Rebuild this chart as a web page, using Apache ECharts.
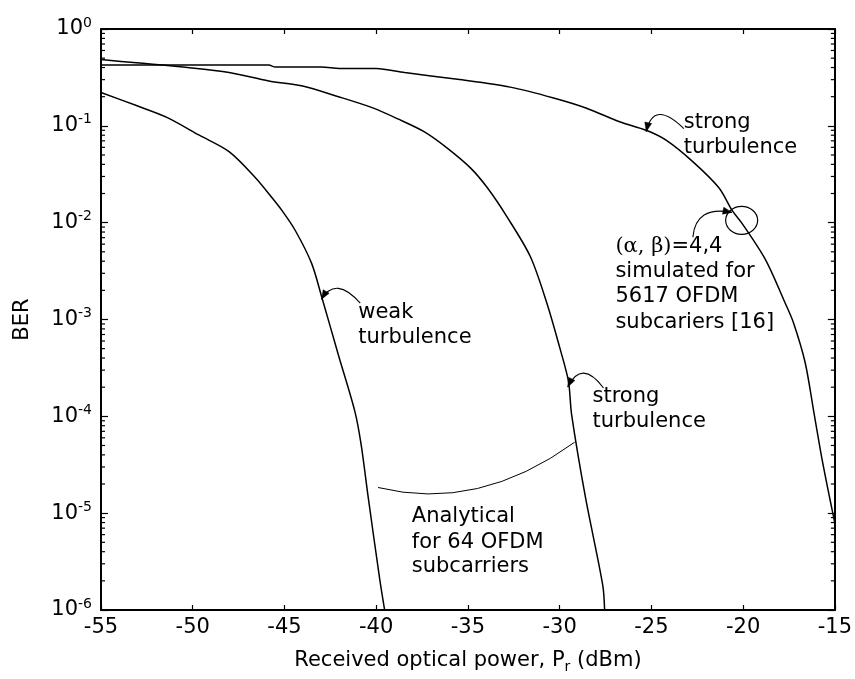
<!DOCTYPE html>
<html>
<head>
<meta charset="utf-8">
<script src="https://cdn.jsdelivr.net/npm/echarts@6/dist/echarts.min.js"></script>
<style>
  html, body { margin: 0; padding: 0; background: #fff; }
  #chart { width: 855px; height: 679px; }
</style>
</head>
<body>
<div id="chart"></div>
<script>
// Weak turbulence, analytical (64 OFDM subcarriers)
const weakX   = [-55, -53.07, -51.44, -49.64, -48.02, -46.57, -45.69, -45.13, -44.41, -43.52, -42.98, -42.06, -41.16, -40.82, -40.44, -39.81, -39.54];
const weakBER = [0.221, 0.162, 0.123, 0.080, 0.0542, 0.029, 0.0182, 0.0133, 0.0083, 0.0038, 0.00174, 4.3e-4, 1.12e-4, 5.1e-5, 1.48e-5, 2.1e-6, 1e-6];

// Strong turbulence, analytical (64 OFDM subcarriers)
const strongX   = [-55, -53.07, -50.18, -48.02, -45.85, -44.07, -42.06, -40.26, -38.82, -37.37, -36.11, -34.85, -33.94, -32.86, -31.6, -30.7, -29.98, -29.52, -29.35, -28.6, -27.65, -27.55];
const strongBER = [0.483, 0.447, 0.398, 0.355, 0.291, 0.259, 0.2, 0.155, 0.118, 0.0867, 0.0586, 0.0366, 0.0229, 0.0114, 0.00447, 0.00148, 5.0e-4, 2.3e-4, 1.05e-4, 1.48e-5, 1.8e-6, 1e-6];

// Strong turbulence, (alpha, beta) = 4,4, simulated for 5617 OFDM subcarriers [16]
const simX   = [-55, -45.85, -45.5, -43, -42, -40, -38.45, -35.57, -32.7, -30.33, -28.53, -26.73, -25.28, -24.2, -22.76, -21.32, -20.59, -20.05, -18.79, -17.71, -17.26, -16.62, -16.15, -15.72, -15.27, -15];
const simBER = [0.424, 0.424, 0.404, 0.404, 0.392, 0.39, 0.355, 0.302, 0.251, 0.194, 0.152, 0.110, 0.0899, 0.0711, 0.0429, 0.0229, 0.0133, 0.00977, 0.00417, 0.00148, 9.3e-4, 3.6e-4, 1.12e-4, 3.8e-5, 1.4e-5, 7.9e-6];

// Axis ranges and ticks
const xMin = -55, xMax = -15, xStep = 5;
const berMin = 1e-6, berMax = 1;

const FONT = 'DejaVu Sans';
const INK = '#000';

function pairs(xs, ys) { return xs.map((x, i) => [x, ys[i]]); }

// minor ticks at 2..9 x 10^k
const minorTicks = [];
for (let k = -6; k < 0; k++) {
  for (let m = 2; m <= 9; m++) minorTicks.push([xMin, m * Math.pow(10, k)]);
}

const chart = echarts.init(document.getElementById('chart'), null, { renderer: 'canvas' });

const axisLineStyle = { color: INK, width: 2 };
const lineStyle = { color: INK, width: 1.5 };

function logAxis(extra) {
  return Object.assign({
    type: 'log', logBase: 10, min: berMin, max: berMax, interval: 1, splitNumber: 6,
    axisLine: { show: true, lineStyle: axisLineStyle },
    axisTick: { show: true, inside: true, length: 7, lineStyle: { color: INK, width: 1.2 } },
    splitLine: { show: false },
    minorTick: { show: false }
  }, extra);
}

function curve(name, xs, ys) {
  return {
    name: name, type: 'line', data: pairs(xs, ys),
    showSymbol: false, smooth: 0.3,
    lineStyle: lineStyle, silent: true
  };
}

chart.setOption({
  animation: false,
  backgroundColor: '#fff',
  grid: { left: 101, right: 15, top: 29, bottom: 60, containLabel: false },
  xAxis: [
    {
      type: 'value', min: xMin, max: xMax, interval: xStep, position: 'bottom',
      name: 'Received optical power, P{sub|r} (dBm)',
      nameLocation: 'middle', nameGap: 38,
      nameTextStyle: {
        color: INK, fontFamily: FONT, fontSize: 21, lineHeight: 26,
        rich: { sub: { fontSize: 14, fontFamily: FONT, color: INK, verticalAlign: 'bottom', lineHeight: 26 } }
      },
      axisLine: { show: true, lineStyle: axisLineStyle },
      axisTick: { show: true, inside: true, length: 5, lineStyle: { color: INK, width: 1.2 } },
      axisLabel: { color: INK, fontFamily: FONT, fontSize: 21, margin: 7 },
      splitLine: { show: false }
    },
    {
      type: 'value', min: xMin, max: xMax, interval: xStep, position: 'top',
      axisLine: { show: true, lineStyle: axisLineStyle },
      axisTick: { show: true, inside: true, length: 5, lineStyle: { color: INK, width: 1.2 } },
      axisLabel: { show: false },
      splitLine: { show: false }
    }
  ],
  yAxis: [
    logAxis({
      position: 'left',
      name: 'BER', nameLocation: 'middle', nameGap: 68, nameRotate: 90,
      nameTextStyle: { color: INK, fontFamily: FONT, fontSize: 21 },
      axisLabel: {
        margin: 9,
        formatter: v => '{b|10}{e|' + Math.round(Math.log10(v)) + '}',
        rich: {
          b: { fontFamily: FONT, fontSize: 21, color: INK, lineHeight: 26, verticalAlign: 'middle' },
          e: { fontFamily: FONT, fontSize: 14, color: INK, lineHeight: 26, verticalAlign: 'top' }
        }
      }
    }),
    logAxis({ position: 'right', axisLabel: { show: false } })
  ],
  series: [
    curve('weak', weakX, weakBER),
    curve('strong', strongX, strongBER),
    curve('simulated', simX, simBER),
    {
      // log-decade minor ticks on the left and right frame
      name: 'minorTicks', type: 'custom', silent: true, clip: false,
      data: minorTicks,
      renderItem: (params, api) => {
        const l = api.coord([xMin, api.value(1)]);
        const r = api.coord([xMax, api.value(1)]);
        return {
          type: 'group',
          children: [
            { type: 'line', shape: { x1: l[0], y1: l[1], x2: l[0] + 4, y2: l[1] }, style: { stroke: INK, lineWidth: 1.2 } },
            { type: 'line', shape: { x1: r[0], y1: r[1], x2: r[0] - 4, y2: r[1] }, style: { stroke: INK, lineWidth: 1.2 } }
          ]
        };
      }
    }
  ]
});

// Annotations, anchored in data space: [dBm, log10(BER)]
const noteLines = [
  { at: [-23.23, -1.046], text: 'strong' },
  { at: [-23.23, -1.300], text: 'turbulence' },
  { at: [-26.96, -2.322], text: '{g|(\u03b1, \u03b2)}=4,4' },
  { at: [-26.96, -2.576], text: 'simulated for' },
  { at: [-26.96, -2.841], text: '5617 OFDM' },
  { at: [-26.96, -3.106], text: 'subcariers [16]' },
  { at: [-40.98, -3.004], text: 'weak' },
  { at: [-40.98, -3.259], text: 'turbulence' },
  { at: [-28.21, -3.870], text: 'strong' },
  { at: [-28.21, -4.134], text: 'turbulence' },
  { at: [-38.06, -5.112], text: 'Analytical' },
  { at: [-38.06, -5.377], text: 'for 64 OFDM' },
  { at: [-38.06, -5.631], text: 'subcarriers' }
];

const pointers = [
  { from: [-23.23, -1.029], ctrl: [-24.88, -0.723], to: [-25.28, -1.059], head: true },
  { from: [-22.74, -2.149], ctrl: [-22.58, -1.822], to: [-20.61, -1.894], head: true },
  { from: [-40.87, -2.831], ctrl: [-42.20, -2.546], to: [-42.98, -2.790], head: true },
  { from: [-27.61, -3.707], ctrl: [-28.80, -3.406], to: [-29.56, -3.697], head: true },
  { from: [-39.90, -4.735], ctrl: [-34.43, -4.990], to: [-29.18, -4.267], head: false }
];

const circled = { center: [-20.08, -1.976], rx: 16, ry: 14 };

function toPx(p) {
  return chart.convertToPixel({ xAxisIndex: 0, yAxisIndex: 0 }, [p[0], Math.pow(10, p[1])]);
}

const graphics = [];
const FS = 21;
noteLines.forEach(n => {
  const p = toPx(n.at);
  graphics.push({
    type: 'text', x: p[0], y: p[1] - 0.35 * FS, silent: true,
    style: {
      text: n.text, fill: INK, fontFamily: FONT, fontSize: FS,
      align: 'left', verticalAlign: 'middle',
      rich: { g: { fontFamily: 'DejaVu Serif', fontSize: FS, fill: INK } }
    }
  });
});

pointers.forEach(a => {
  const p0 = toPx(a.from), c = toPx(a.ctrl), p1 = toPx(a.to);
  graphics.push({
    type: 'bezierCurve', silent: true,
    shape: { x1: p0[0], y1: p0[1], cpx1: c[0], cpy1: c[1], x2: p1[0], y2: p1[1] },
    style: { stroke: INK, lineWidth: a.head ? 1.1 : 1.0, fill: null }
  });
  if (a.head) {
    const dx = p1[0] - c[0], dy = p1[1] - c[1];
    const len = Math.hypot(dx, dy), ux = dx / len, uy = dy / len;
    const L = 9, W = 3.5;
    const bx = p1[0] - ux * L, by = p1[1] - uy * L;
    graphics.push({
      type: 'polygon', silent: true,
      shape: { points: [[p1[0], p1[1]], [bx - uy * W, by + ux * W], [bx + uy * W, by - ux * W]] },
      style: { fill: INK, stroke: INK, lineWidth: 0.5 }
    });
  }
});

const cc = toPx(circled.center);
graphics.push({
  type: 'ellipse', silent: true,
  shape: { cx: cc[0], cy: cc[1], rx: circled.rx, ry: circled.ry },
  style: { stroke: INK, lineWidth: 1.2, fill: null }
});

chart.setOption({ graphic: graphics });
</script>
</body>
</html>
